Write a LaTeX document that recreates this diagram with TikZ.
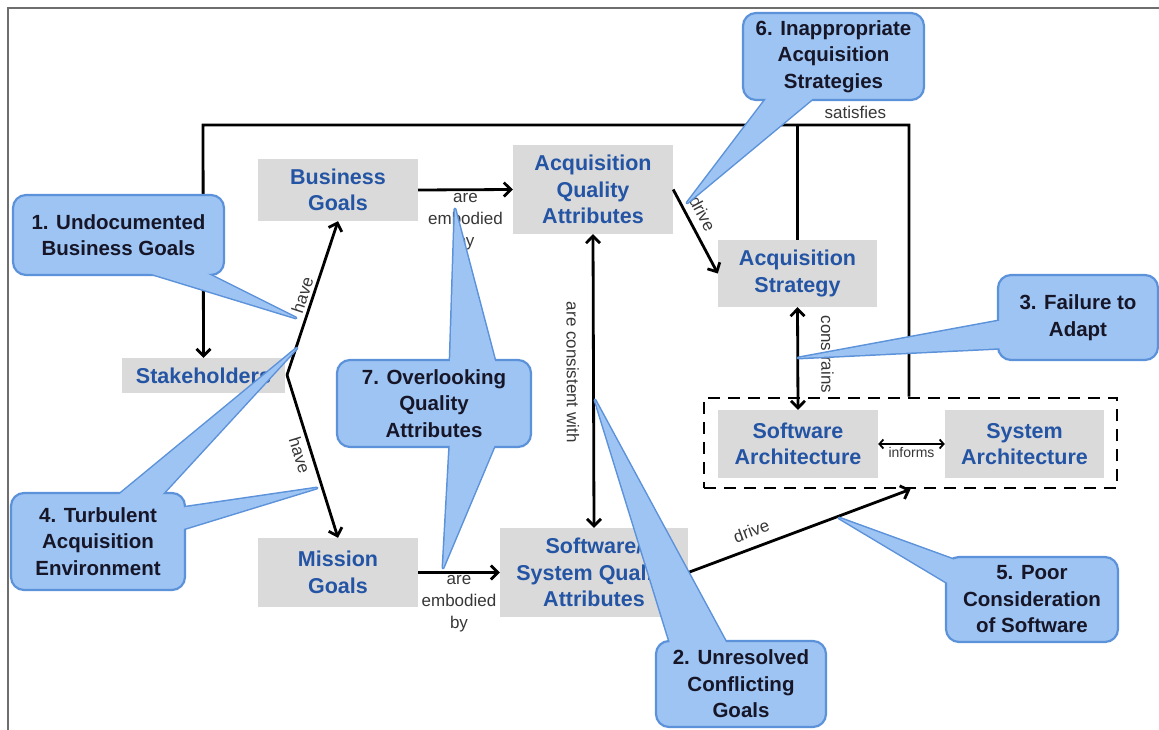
\documentclass[tikz,border=0pt]{standalone}
\usepackage{fontspec}
\setmainfont{Liberation Sans}
\usetikzlibrary{arrows.meta,positioning}

\definecolor{boxgray}{RGB}{218,218,218}
\definecolor{goalblue}{RGB}{36,84,164}
\definecolor{riskfill}{RGB}{157,196,242}
\definecolor{riskline}{RGB}{92,146,218}
\definecolor{riskink}{RGB}{22,22,40}
\definecolor{tagink}{RGB}{55,55,55}
\definecolor{framegray}{RGB}{110,110,110}

\newcommand{\goalfont}{\fontsize{21.5}{26.5}\selectfont\bfseries}
\newcommand{\riskfont}{\fontsize{20.5}{26.5}\selectfont\bfseries}
\newcommand{\tagfont}{\fontsize{17}{22}\selectfont}

\tikzset{
  goal/.style={fill=boxgray, text=goalblue, font=\goalfont, align=center, inner sep=0pt},
  risk/.style={fill=riskfill, draw=riskline, line width=2.2pt, rounded corners=13pt,
    text=riskink, font=\riskfont, align=center, inner sep=0pt},
  pin/.style={fill=riskfill, draw=riskline, line width=3pt, line join=round},
  link/.style={line width=2.8pt, -{Straight Barb[length=7pt,width=14pt]}},
  twin/.style={line width=2.8pt, {Straight Barb[length=7pt,width=14pt]}-{Straight Barb[length=7pt,width=14pt]}},
  tag/.style={font=\tagfont, text=tagink, inner sep=1pt, align=center},
  archbox/.style={draw, line width=2.6pt, dash pattern=on 12pt off 8pt},
}

\begin{document}
\begin{tikzpicture}[x=1pt,y=-1pt]
  \useasboundingbox (0,0) rectangle (1159,730);
  \draw[framegray, line width=1.3pt] (8,730) -- (8,8) -- (1159,8);

  \coordinate (fork) at (287,375);
  \coordinate (loopL) at (203,125);
  \coordinate (loopR) at (909,125);

  \node[goal, minimum width=160pt, minimum height=62pt] (bg) at (338,190) {Business\\Goals};
  \node[goal, minimum width=160pt, minimum height=89pt] (aqa) at (593,189.5) {Acquisition\\Quality\\Attributes};
  \node[goal, minimum width=159pt, minimum height=67pt] (as) at (797.5,273.5) {Acquisition\\Strategy};
  \node[goal, minimum width=163pt, minimum height=35pt] (sh) at (203.5,375.5) {Stakeholders};
  \node[goal, minimum width=160pt, minimum height=69pt] (mg) at (338,572.5) {Mission\\Goals};
  \node[goal, minimum width=188pt, minimum height=89pt] (ssqa) at (594,572.5) {Software/\\System Quality\\Attributes};
  \node[goal, minimum width=160pt, minimum height=68pt] (swarch) at (798,444) {Software\\Architecture};
  \node[goal, minimum width=159pt, minimum height=68pt] (sysarch) at (1024.5,444) {System\\Architecture};
  \node[archbox, minimum width=413pt, minimum height=90pt] (arch) at (910.5,443) {};

  \draw[link] (arch.north -| loopR) -- (loopR) -- node[tag, above=4pt, pos=0.076] (sat) {satisfies} (loopL) -- (sh.north);
  \draw[line width=2.8pt] (as.north) -- (as.north |- loopL);
  \draw[link] (fork) -- node[tag, sloped, above=2pt] (have1) {have} (bg.south);
  \draw[link] (fork) -- node[tag, sloped, below=3pt, pos=0.47] (have2) {have} (mg.north);
  \draw[link] (bg.east) -- node[tag, below=1pt] (emb1) {are\\embodied\\by} (aqa.west);
  \draw[link] (mg.east) -- node[tag, below=0pt] (emb2) {are\\embodied\\by} (ssqa.west);
  \draw[twin] (aqa.south) -- node[tag, sloped, below=12pt, pos=0.47] (cons) {are consistent with} (ssqa.north);
  \draw[link] (aqa.east) -- node[tag, sloped, above=6pt, pos=0.37] (drv1) {drive} (as.west);
  \draw[twin] (as.south) -- node[tag, sloped, above=21pt, pos=0.46] (constr) {constrains} (swarch.north);
  \draw[line width=1.8pt, {Straight Barb[length=4pt,width=9pt]}-{Straight Barb[length=4pt,width=9pt]}]
    (swarch.east) -- node[tag, below=1pt, font=\fontsize{14}{16}\selectfont] (inf) {informs} (sysarch.west);
  \draw[link] (ssqa.east) -- node[tag, sloped, above=8pt, pos=0.31] (drv2) {drive} (arch.south);

  \filldraw[pin] (139,270) -- (296,318) -- (200,270) -- cycle;
  \node[risk, minimum width=211pt, minimum height=80pt] (risk1) at (118.5,235) {1. Undocumented\\Business Goals};
  \fill[riskfill] (139,270) -- (296,318) -- (200,270) -- cycle;

  \filldraw[pin] (769,95) -- (687,203) -- (817,95) -- cycle;
  \node[risk, minimum width=181pt, minimum height=87pt] (risk6) at (833.5,56.5) {6. Inappropriate\\Acquisition\\Strategies};
  \fill[riskfill] (769,95) -- (687,203) -- (817,95) -- cycle;

  \filldraw[pin] (1004,320) -- (798,358) -- (1004,348) -- cycle;
  \node[risk, minimum width=160pt, minimum height=85pt] (risk3) at (1078,317.5) {3. Failure to\\Adapt};
  \fill[riskfill] (1004,320) -- (798,358) -- (1004,348) -- cycle;

  \filldraw[pin] (115,498) -- (297,348) -- (159,498) -- cycle;
  \filldraw[pin] (180,508) -- (317,488) -- (180,530) -- cycle;
  \node[risk, minimum width=174pt, minimum height=97pt] (risk4) at (98,541.5) {4. Turbulent\\Acquisition\\Environment};
  \fill[riskfill] (115,498) -- (297,348) -- (159,498) -- cycle;
  \fill[riskfill] (180,508) -- (317,488) -- (180,530) -- cycle;

  \filldraw[pin] (450,365) -- (455,209) -- (496,365) -- cycle;
  \filldraw[pin] (450,442) -- (443,568) -- (496,442) -- cycle;
  \node[risk, minimum width=194pt, minimum height=87pt] (risk7) at (434,403.5) {7. Overlooking\\Quality\\Attributes};
  \fill[riskfill] (450,365) -- (455,209) -- (496,365) -- cycle;
  \fill[riskfill] (450,442) -- (443,568) -- (496,442) -- cycle;

  \filldraw[pin] (671,646) -- (595,400) -- (728,646) -- cycle;
  \node[risk, minimum width=170pt, minimum height=86pt] (risk2) at (741,684) {2. Unresolved\\Conflicting\\Goals};
  \fill[riskfill] (671,646) -- (595,400) -- (728,646) -- cycle;

  \filldraw[pin] (960,562) -- (839,518) -- (951,585) -- cycle;
  \node[risk, minimum width=172pt, minimum height=85pt] (risk5) at (1032,599.5) {5. Poor\\Consideration\\of Software};
  \fill[riskfill] (960,562) -- (839,518) -- (951,585) -- cycle;
\end{tikzpicture}
\end{document}
